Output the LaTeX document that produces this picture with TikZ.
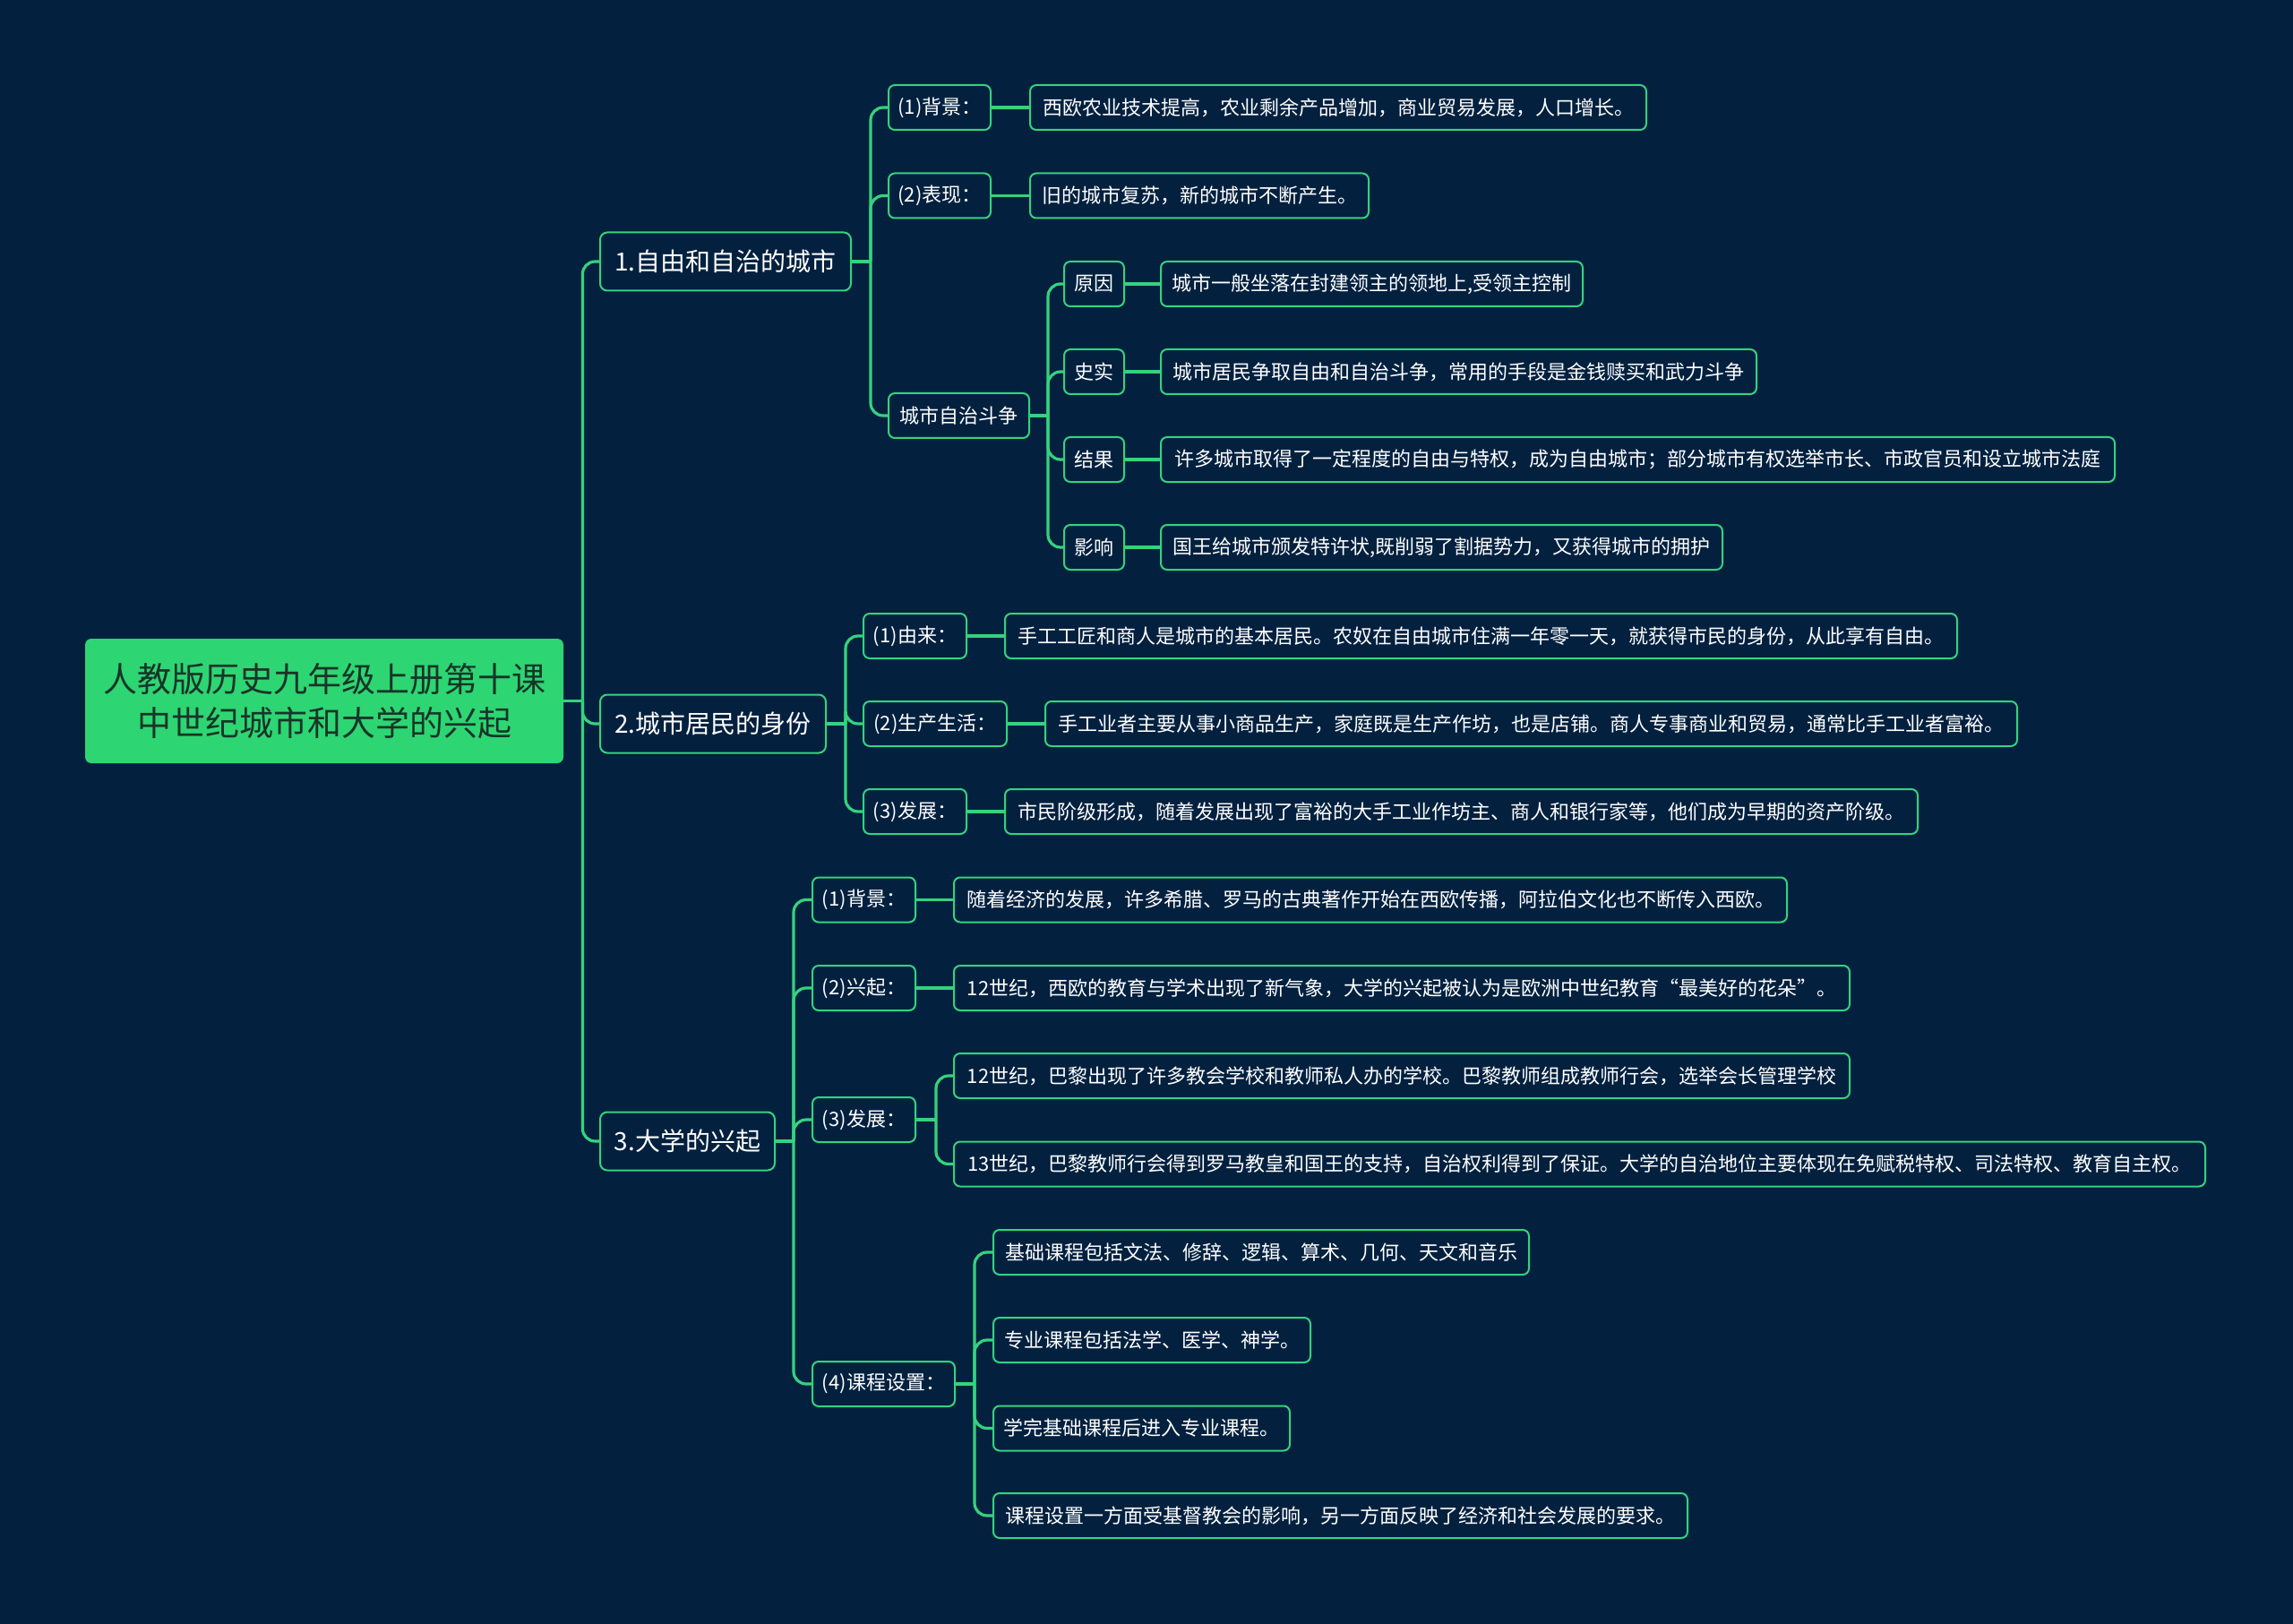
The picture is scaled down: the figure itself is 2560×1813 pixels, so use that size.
\documentclass[tikz,border=0pt]{standalone}
\usepackage{fontspec}
\setmainfont{Noto Sans CJK SC}
\definecolor{bg}{HTML}{03213F}
\definecolor{lg}{HTML}{35D27E}
\definecolor{rootg}{HTML}{2ED573}
\definecolor{roottxt}{HTML}{173528}
\tikzset{
  rootbox/.style={fill=rootg, rounded corners=3.5pt, minimum width=267pt, minimum height=69.5pt,
    text=roottxt, align=center, inner sep=0pt, font=\fontsize{19}{24.5}\selectfont},
  lonebox/.style={draw=lg, line width=1pt, fill=bg, rounded corners=4pt, minimum height=32.5pt,
    text=white, inner xsep=7pt, inner ysep=0pt, anchor=west, font=\fontsize{14}{16}\selectfont},
  ltwobox/.style={draw=lg, line width=1pt, fill=bg, rounded corners=3.5pt, minimum height=25pt,
    text=white, inner xsep=5pt, inner ysep=0pt, anchor=west, font=\fontsize{11}{13}\selectfont},
  conn/.style={draw=lg, line width=1.6pt, rounded corners=7pt},
}
\begin{document}
\begin{tikzpicture}[x=0.5pt,y=-0.5pt]
\fill[bg] (0,0) rectangle (2560,1813);
\useasboundingbox (0,0) rectangle (2560,1813);

% root
\node[rootbox] (root) at (362,782.5) {人教版历史九年级上册第十课\\中世纪城市和大学的兴起};

% level 1
\node[lonebox, minimum width=140pt] (a1) at (669,292) {1.自由和自治的城市};
\node[lonebox, minimum width=126pt] (a2) at (669,808) {2.城市居民的身份};
\node[lonebox, minimum width=97.5pt] (a3) at (669,1274) {3.大学的兴起};

% under a1
\node[ltwobox, minimum width=57pt] (b11) at (991,120) {(1)背景：};
\node[ltwobox, minimum width=57pt] (b12) at (991,218.5) {(2)表现：};
\node[ltwobox, minimum width=78.5pt] (b13) at (991,464) {城市自治斗争};
\node[ltwobox, minimum width=344pt] (c11) at (1149,120) {西欧农业技术提高，农业剩余产品增加，商业贸易发展，人口增长。};
\node[ltwobox, minimum width=189pt] (c12) at (1149,218.5) {旧的城市复苏，新的城市不断产生。};

\node[ltwobox, minimum width=33.5pt] (d1) at (1187,317) {原因};
\node[ltwobox, minimum width=33.5pt] (d2) at (1187,415) {史实};
\node[ltwobox, minimum width=33.5pt] (d3) at (1187,513) {结果};
\node[ltwobox, minimum width=33.5pt] (d4) at (1187,611) {影响};
\node[ltwobox, minimum width=235.5pt] (e1) at (1295,317) {城市一般坐落在封建领主的领地上,受领主控制};
\node[ltwobox, minimum width=332.5pt] (e2) at (1295,415) {城市居民争取自由和自治斗争，常用的手段是金钱赎买和武力斗争};
\node[ltwobox, minimum width=532.5pt] (e3) at (1295,513) {许多城市取得了一定程度的自由与特权，成为自由城市；部分城市有权选举市长、市政官员和设立城市法庭};
\node[ltwobox, minimum width=313.5pt] (e4) at (1295,611) {国王给城市颁发特许状,既削弱了割据势力，又获得城市的拥护};

% under a2
\node[ltwobox, minimum width=57.5pt] (b21) at (963,710) {(1)由来：};
\node[ltwobox, minimum width=80pt] (b22) at (963,808) {(2)生产生活：};
\node[ltwobox, minimum width=57.5pt] (b23) at (963,906) {(3)发展：};
\node[ltwobox, minimum width=531.5pt] (c21) at (1121,710) {手工工匠和商人是城市的基本居民。农奴在自由城市住满一年零一天，就获得市民的身份，从此享有自由。};
\node[ltwobox, minimum width=542.5pt] (c22) at (1166,808) {手工业者主要从事小商品生产，家庭既是生产作坊，也是店铺。商人专事商业和贸易，通常比手工业者富裕。};
\node[ltwobox, minimum width=509.5pt] (c23) at (1121,906) {市民阶级形成，随着发展出现了富裕的大手工业作坊主、商人和银行家等，他们成为早期的资产阶级。};

% under a3
\node[ltwobox, minimum width=57.5pt] (b31) at (906,1004.5) {(1)背景：};
\node[ltwobox, minimum width=57.5pt] (b32) at (906,1103) {(2)兴起：};
\node[ltwobox, minimum width=57.5pt] (b33) at (906,1250) {(3)发展：};
\node[ltwobox, minimum width=79.5pt] (b34) at (906,1545) {(4)课程设置：};
\node[ltwobox, minimum width=465pt] (c31) at (1064,1004.5) {随着经济的发展，许多希腊、罗马的古典著作开始在西欧传播，阿拉伯文化也不断传入西欧。};
\node[ltwobox, minimum width=500pt] (c32) at (1064,1103) {12世纪，西欧的教育与学术出现了新气象，大学的兴起被认为是欧洲中世纪教育“最美好的花朵”。};
\node[ltwobox, minimum width=500pt] (c33a) at (1064,1201) {12世纪，巴黎出现了许多教会学校和教师私人办的学校。巴黎教师组成教师行会，选举会长管理学校};
\node[ltwobox, minimum width=698.5pt] (c33b) at (1064,1299.5) {13世纪，巴黎教师行会得到罗马教皇和国王的支持，自治权利得到了保证。大学的自治地位主要体现在免赋税特权、司法特权、教育自主权。};
\node[ltwobox, minimum width=299pt] (c34a) at (1108,1398) {基础课程包括文法、修辞、逻辑、算术、几何、天文和音乐};
\node[ltwobox, minimum width=177pt] (c34b) at (1108,1496) {专业课程包括法学、医学、神学。};
\node[ltwobox, minimum width=165.5pt] (c34c) at (1108,1594.5) {学完基础课程后进入专业课程。};
\node[ltwobox, minimum width=387.5pt] (c34d) at (1108,1692) {课程设置一方面受基督教会的影响，另一方面反映了经济和社会发展的要求。};

% connectors
\draw[conn] (root.east) -- ++(21,0) coordinate (j0);
\foreach \c in {a1,a2,a3} \draw[conn] (j0) |- (\c.west);

\draw[conn] (a1.east) -- ++(21,0) coordinate (j1);
\foreach \c in {b11,b12,b13} \draw[conn] (j1) |- (\c.west);
\draw[conn] (b11.east) -- (c11.west);
\draw[conn] (b12.east) -- (c12.west);
\draw[conn] (b13.east) -- ++(20,0) coordinate (j13);
\foreach \c in {d1,d2,d3,d4} \draw[conn] (j13) |- (\c.west);
\draw[conn] (d1.east) -- (e1.west);
\draw[conn] (d2.east) -- (e2.west);
\draw[conn] (d3.east) -- (e3.west);
\draw[conn] (d4.east) -- (e4.west);

\draw[conn] (a2.east) -- ++(21,0) coordinate (j2);
\foreach \c in {b21,b22,b23} \draw[conn] (j2) |- (\c.west);
\draw[conn] (b21.east) -- (c21.west);
\draw[conn] (b22.east) -- (c22.west);
\draw[conn] (b23.east) -- (c23.west);

\draw[conn] (a3.east) -- ++(20,0) coordinate (j3);
\foreach \c in {b31,b32,b33,b34} \draw[conn] (j3) |- (\c.west);
\draw[conn] (b31.east) -- (c31.west);
\draw[conn] (b32.east) -- (c32.west);
\draw[conn] (b33.east) -- ++(22,0) coordinate (j33);
\foreach \c in {c33a,c33b} \draw[conn] (j33) |- (\c.west);
\draw[conn] (b34.east) -- ++(21,0) coordinate (j34);
\foreach \c in {c34a,c34b,c34c,c34d} \draw[conn] (j34) |- (\c.west);
\end{tikzpicture}
\end{document}
